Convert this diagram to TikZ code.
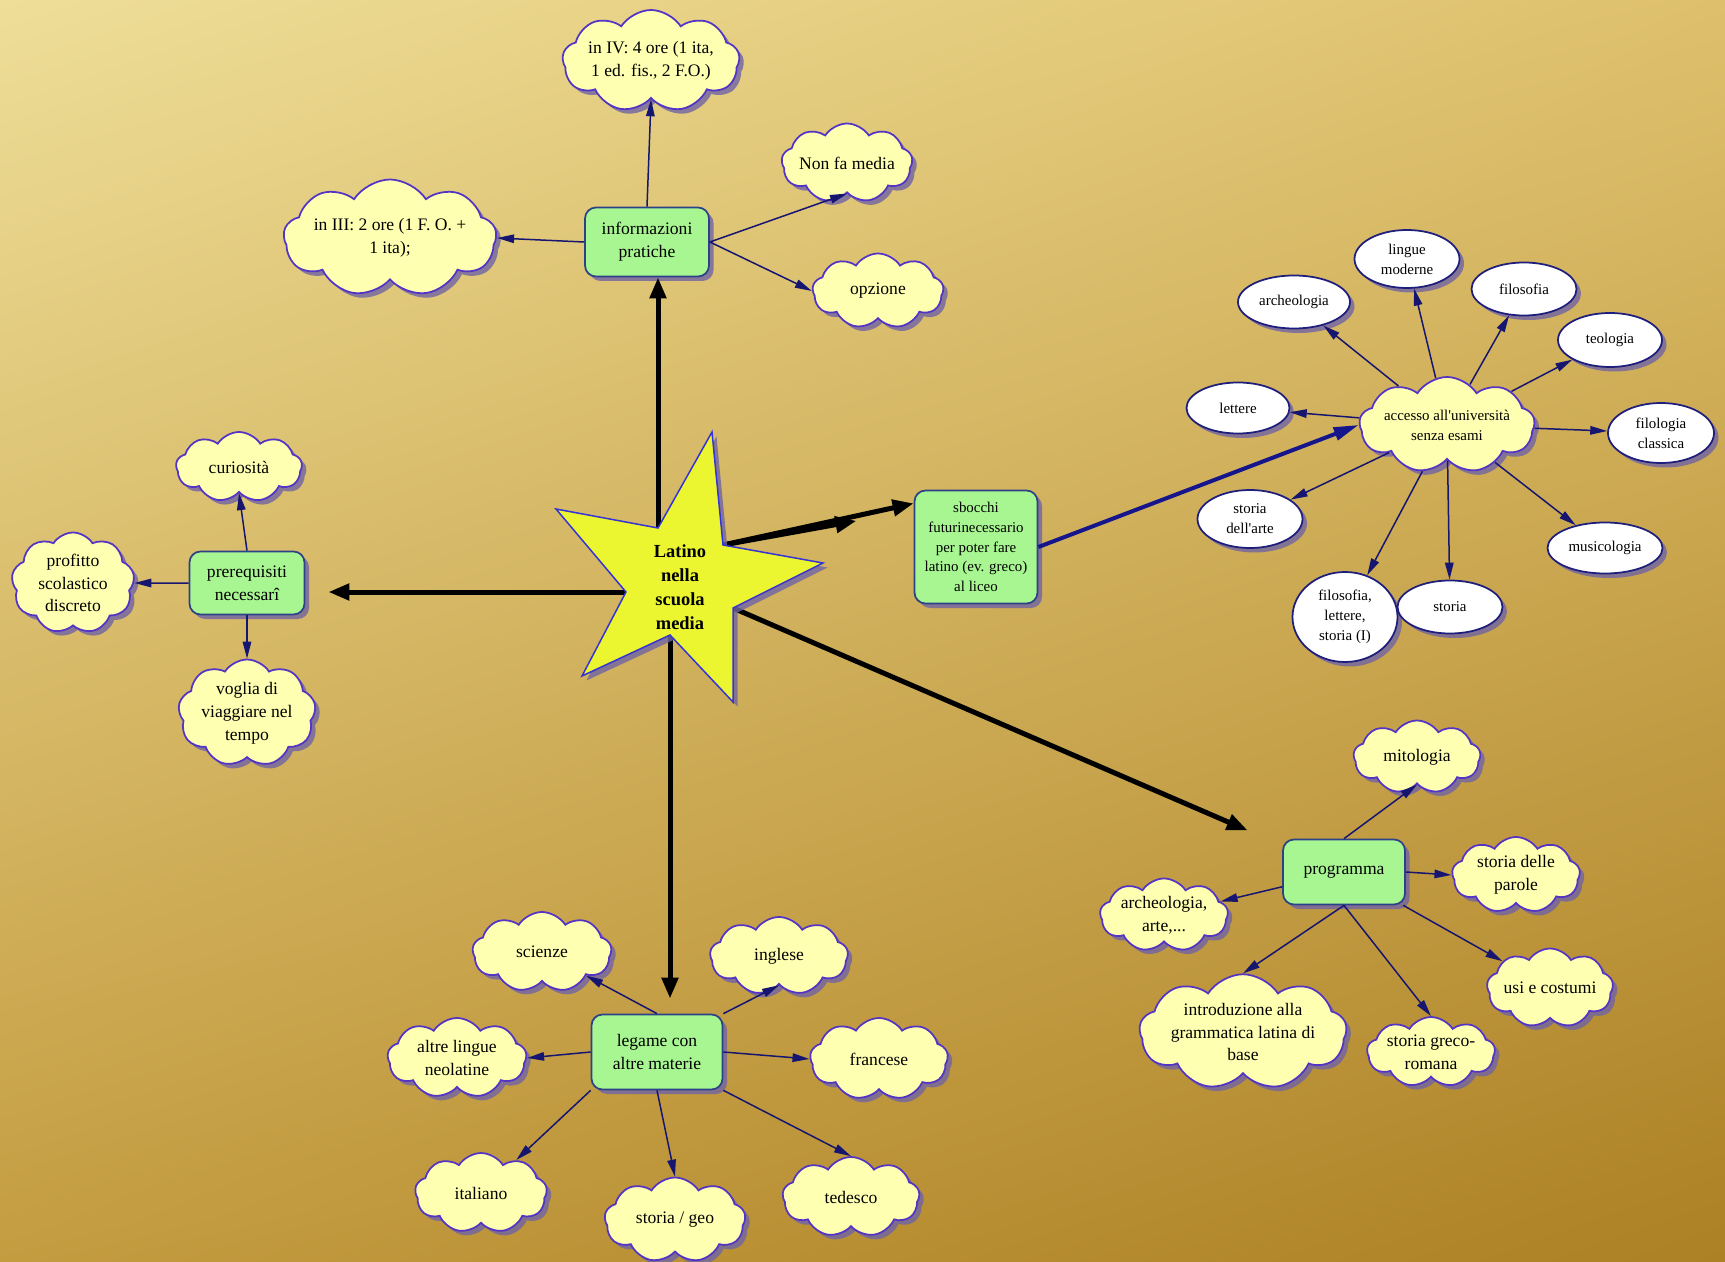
\documentclass[tikz,border=0pt]{standalone}
\usepackage{fontspec}
\setmainfont{Liberation Serif}
\usetikzlibrary{shapes, positioning, arrows.meta, calc, shadows, shadings}
\definecolor{bgtl}{RGB}{238,222,152}
\definecolor{bgtr}{RGB}{222,192,108}
\definecolor{bgbl}{RGB}{196,156,64}
\definecolor{bgbr}{RGB}{172,128,36}
\definecolor{cloudfill}{RGB}{255,255,178}
\definecolor{cloudline}{RGB}{84,52,196}
\definecolor{boxfill}{RGB}{168,246,146}
\definecolor{boxline}{RGB}{44,66,136}
\definecolor{outline}{RGB}{30,30,124}
\definecolor{arrowc}{RGB}{22,22,112}
\definecolor{linkc}{RGB}{22,22,140}
\definecolor{shadowc}{RGB}{112,100,164}
\definecolor{starfill}{RGB}{236,246,48}
\definecolor{starline}{RGB}{52,52,212}
\tikzset{
  hub/.style={
    rectangle,
    rounded corners=2.2mm,
    draw=boxline, line width=0.35mm,
    fill=boxfill,
    align=center,
    font=\fontsize{10}{13}\selectfont,
    drop shadow={shadow xshift=0.9mm, shadow yshift=-0.9mm, fill=shadowc, opacity=0.8}
  },
  idea/.style={
    cloud, cloud puffs=9, cloud puff arc=115, cloud ignores aspect,
    draw=cloudline, line width=0.35mm,
    fill=cloudfill,
    inner sep=0pt,
    align=center,
    font=\fontsize{10}{13}\selectfont,
    drop shadow={shadow xshift=0.9mm, shadow yshift=-0.9mm, fill=shadowc, opacity=0.8}
  },
  outlet/.style={
    ellipse,
    draw=outline, line width=0.35mm,
    fill=white,
    inner sep=0pt,
    align=center,
    font=\fontsize{8.5}{11.3}\selectfont,
    drop shadow={shadow xshift=0.9mm, shadow yshift=-0.9mm, fill=shadowc, opacity=0.8}
  },
  sz/.style 2 args={minimum width=#1*0.2mm, minimum height=#2*0.2mm},
  arrow/.style={
    draw=arrowc,
    line width=0.3mm,
    -{Triangle[length=3.4mm,width=1.7mm]}
  },
  bigarrow/.style={
    draw=black,
    line width=1mm,
    -{Triangle[length=4.2mm,width=3.2mm]}
  },
  link/.style={
    draw=linkc,
    line width=0.8mm,
    -{Triangle[length=5mm,width=2.6mm]}
  }
}

\begin{document}
\begin{tikzpicture}[x=0.2mm, y=-0.2mm]
\useasboundingbox (0,0) rectangle (1725,1262);
\shade[upper left=bgtl, upper right=bgtr, lower left=bgbl, lower right=bgbr] (0,0) rectangle (1725,1262);

% star corners
\coordinate (st1) at (712,432);
\coordinate (st2) at (723,545);
\coordinate (st3) at (823,563);
\coordinate (st4) at (733,608);
\coordinate (st5) at (733,702);
\coordinate (st6) at (670,635);
\coordinate (st7) at (582,676);
\coordinate (st8) at (626,592);
\coordinate (st9) at (556,509);
\coordinate (st10) at (658,528);

% nodes
\node[hub, sz={124}{69}] (info) at (647,242) {informazioni\\pratiche};
\node[idea, sz={168}{102}] (inIV) at (651,61) {in IV: 4 ore (1 ita,\\1 ed. fis., 2 F.O.)};
\node[idea, sz={131}{79}] (nonfa) at (847,163) {Non fa media};
\node[idea, sz={131}{75}] (opzione) at (878,291) {opzione};
\node[idea, sz={205}{117}] (inIII) at (390,238) {in III: 2 ore (1 F. O. +\\1 ita);};

\node[hub, sz={115}{63}] (prer) at (247,583) {prerequisiti\\necessarî};
\node[idea, sz={126}{70}] (curiosita) at (239,467) {curiosità};
\node[idea, sz={123}{101}] (profitto) at (73,583) {profitto\\scolastico\\discreto};
\node[idea, sz={123}{107}] (voglia) at (247,713) {voglia di\\viaggiare nel\\tempo};

\node[hub, sz={123}{113}, font=\fontsize{8.5}{11.3}\selectfont] (sbocchi) at (976,547)
  {sbocchi\\futurinecessario\\per poter fare\\latino (ev. greco)\\al liceo};
\coordinate (sbin) at ($(sbocchi.north west)!0.12!(sbocchi.south west)$);
\node[idea, sz={167}{96}, font=\fontsize{8.5}{11.3}\selectfont] (accesso) at (1447,425)
  {accesso all\textquotesingle università\\senza esami};
\node[outlet, sz={112}{53}] (archeo) at (1294,302) {archeologia};
\node[outlet, sz={105}{58}] (lingue) at (1407,259) {lingue\\moderne};
\node[outlet, sz={105}{53}] (filos) at (1524,289) {filosofia};
\node[outlet, sz={104}{54}] (teol) at (1610,340) {teologia};
\node[outlet, sz={103}{51}] (lettere) at (1238,408) {lettere};
\node[outlet, sz={106}{60}] (filol) at (1661,433) {filologia\\classica};
\node[outlet, sz={105}{58}] (starte) at (1250,519) {storia\\dell\textquotesingle arte};
\node[outlet, sz={115}{51}] (musico) at (1605,548) {musicologia};
\node[outlet, sz={105}{90}] (fillet) at (1345,617) {filosofia,\\lettere,\\storia (I)};
\node[outlet, sz={105}{53}] (storia) at (1450,607) {storia};

\node[hub, sz={122}{65}] (prog) at (1344,872) {programma};
\node[idea, sz={127}{73}] (mito) at (1417,757) {mitologia};
\node[idea, sz={128}{76}] (parole) at (1516,875) {storia delle\\parole};
\node[idea, sz={128}{70}] (archarte) at (1164,915) {archeologia,\\arte,...};
\node[idea, sz={125}{79}] (usi) at (1550,988) {usi e costumi};
\node[idea, sz={200}{115}] (intro) at (1243,1032) {introduzione alla\\grammatica latina di\\base};
\node[idea, sz={128}{70}] (grecorom) at (1431,1052) {storia greco-\\romana};

\node[hub, sz={131}{75}] (leg) at (657,1052) {legame con\\altre materie};
\node[idea, sz={139}{80}] (scienze) at (542,952) {scienze};
\node[idea, sz={139}{80}] (neolat) at (457,1058) {altre lingue\\neolatine};
\node[idea, sz={132}{80}] (italiano) at (481,1193) {italiano};
\node[idea, sz={141}{85}] (stgeo) at (675,1220) {storia / geo};
\node[idea, sz={138}{78}] (inglese) at (779,956) {inglese};
\node[idea, sz={138}{82}] (francese) at (879,1059) {francese};
\node[idea, sz={137}{80}] (tedesco) at (851,1197) {tedesco};

% edges

%% star
\draw [bigarrow] (st10) -- (st10 |- info.south);
\draw [bigarrow, shorten >=4.6mm] (st8) -- (st8 -| prer.east);
\draw [bigarrow] (st2) -- (sbin);
\draw [bigarrow] (st2) -- ($(st2)!0.7!(sbin)+(0,5)$);
\draw [bigarrow, shorten >=7.5mm] (st4) -- (prog);
\draw [bigarrow, shorten >=3mm] (st6) -- (st6 |- leg.north);

\path[draw=starline, fill=starfill, line width=0.3mm,
  drop shadow={shadow xshift=0.9mm, shadow yshift=-0.9mm, fill=shadowc, opacity=0.8}]
  (st1) -- (st2) -- (st3) -- (st4) -- (st5) -- (st6) -- (st7) -- (st8) -- (st9) -- (st10) -- cycle;
\node[font=\fontsize{10.5}{13.6}\selectfont\bfseries, align=center] (latino) at (680,587)
  {Latino\\nella\\scuola\\media};

%% info
\draw [arrow] (info.north) -- (inIV.south);
\draw [arrow] (info.east) -- (nonfa.south);
\draw [arrow] (info.east) -- (opzione.west);
\draw [arrow] (info.west) -- (inIII.east);

%% prer
\draw [arrow] (prer.north) -- (curiosita.south);
\draw [arrow] (prer.west) -- (profitto.east);
\draw [arrow] (prer.south) -- (voglia.north);

%% sbocchi
\draw [link] (sbocchi.east) -- (accesso.west);

%% accesso
\foreach \t in {archeo, lingue, filos, teol, lettere, filol, starte, musico, fillet, storia}
  \draw [arrow] (accesso) -- (\t);

%% prog
\draw [arrow] (prog.north) -- (mito.south);
\draw [arrow] (prog.east) -- (parole.west);
\draw [arrow] (prog) -- (archarte);
\draw [arrow] (prog) -- (usi);
\draw [arrow] (prog.south) -- (intro.north);
\draw [arrow] (prog.south) -- (grecorom.north);

%% leg
\draw [arrow] (leg.north) -- (scienze);
\draw [arrow] (leg.north east) -- (inglese.south);
\draw [arrow] (leg.west) -- (neolat.east);
\draw [arrow] (leg.east) -- (francese.west);
\draw [arrow] (leg.south west) -- (italiano);
\draw [arrow] (leg.south) -- (stgeo.north);
\draw [arrow] (leg.south east) -- (tedesco.north);

\end{tikzpicture}
\end{document}
